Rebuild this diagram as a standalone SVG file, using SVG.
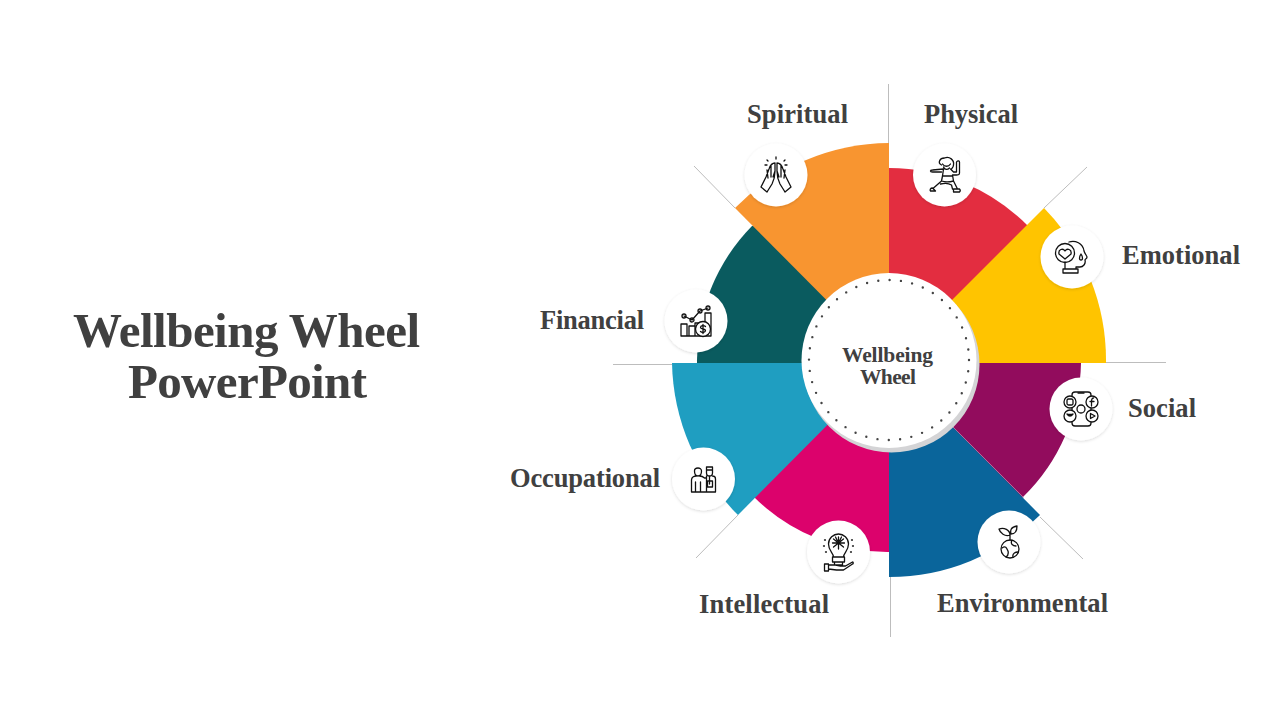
<svg xmlns="http://www.w3.org/2000/svg" width="1280" height="720" viewBox="0 0 1280 720">
<style>
text{font-family:"Liberation Serif","Noto Serif",serif;font-weight:700;fill:#404040}
.t{font-size:49px}
.l{font-size:26.500px}
.c{font-size:21.500px}
.b{fill:#fff;filter:url(#s)}
.i{fill:none;stroke:#111;stroke-width:1.3;stroke-linecap:round;stroke-linejoin:round}
.k{fill:none;stroke:#bdbdbd;stroke-width:1}
</style>
<defs><filter id="s" x="-20%" y="-20%" width="140%" height="140%"><feDropShadow dx="0" dy="1" stdDeviation="1.500" flood-color="#000" flood-opacity=".14"/></filter></defs>
<rect width="1280" height="720" fill="#fff"/>
<g id="title">
<text class="t" x="73" y="347" textLength="347" lengthAdjust="spacing">Wellbeing Wheel</text>
<text class="t" x="128" y="398" textLength="239" lengthAdjust="spacing">PowerPoint</text>
</g>
<g id="connectors" class="k">
<path d="M888.500 84V144"/><path d="M1106 362.500H1166"/><path d="M890.500 577V637"/><path d="M613 364.500H672"/>
<path d="M1044 208L1087 167"/><path d="M1040 517L1083 559"/><path d="M738 515L696 558"/><path d="M735 208L694 166"/>
</g>
<g id="node-physical">
<path d="M889 363V168A195 195 0 0 1 1027 225L1040 240Z" fill="#E32D40"/>
<circle class="b" cx="944.500" cy="175" r="31.500"/>
<g class="i" transform="translate(944.500 175)"><path d="M-3 -10C-7 -12 -5 -17 0 -17C5 -19 10 -15 9 -10C9 -8 8 -7 7 -6M-2 -11C0 -8 4 -8 6 -11M-1 -8C0 -5 3 -5 5 -7M-14 -4C-14 -5 -13 -5 -12 -5L-1 -6L-2 1L-3 6L-11 13M-14 -4C-14 -3 -13 -3 -12 -3L-3 -3M6 -6L9 -3L12 -3V-13C13 -15 15 -14 15 -13V-2C15 0 13 0 12 0L8 0L9 6L13 14M-2 1H8M-3 6C0 7 5 7 9 6M-4 9C0 8 4 8 7 10L8 14M-12 13L-9 16H-14C-15 15 -14 13 -12 13ZM13 14H15C16 15 16 16 15 17H9V14Z"/></g>
<text class="l" x="924" y="123" textLength="94" lengthAdjust="spacing">Physical</text>
</g>
<g id="node-emotional">
<path d="M889 363L1044 208A218 218 0 0 1 1106 363Z" fill="#FFC400"/>
<circle class="b" cx="1072" cy="257" r="31.500"/>
<g class="i" transform="translate(1072 257)"><circle cx="-7" cy="-4" r="9.500"/><path d="M-7 2L-13 -3C-14 -8 -9 -9 -7 -6C-5 -9 0 -8 -1 -3ZM-3 -15C3 -17 11 -14 12 -6C13 -3 15 -1 15 0C15 2 13 2 13 3C14 7 11 10 8 10H4V12M-7 5V12M-9 12H6V16H-9ZM9 -3C11 0 11 3 9 3C7 3 7 0 9 -3Z"/></g>
<text class="l" x="1122" y="264" textLength="118" lengthAdjust="spacing">Emotional</text>
</g>
<g id="node-social">
<path d="M889 363H1081A192 192 0 0 1 1023 497L1010 510Z" fill="#920C5D"/>
<circle class="b" cx="1081" cy="409" r="31.500"/>
<g class="i" transform="translate(1081 409)"><rect x="-9" y="-17" width="19" height="34" rx="3"/><path d="M-3 -16H3"/><g fill="#fff"><circle cx="-11" cy="-7" r="6"/><circle cx="11" cy="-7" r="6"/><circle cx="-11" cy="7" r="6"/><circle cx="11" cy="7" r="6"/><circle cx="0" cy="0" r="4"/></g><rect x="-14" y="-10" width="6" height="6" rx="1.500"/><path d="M12.500 -11C10.500 -11 10.500 -9.500 10.500 -3M9 -7.500H13M-14 5Q-11 9 -8 5Q-11 6 -14 5ZM9.500 4.500L14 7L9.500 9.500Z"/></g>
<text class="l" x="1128" y="417" textLength="68" lengthAdjust="spacing">Social</text>
</g>
<g id="node-environmental">
<path d="M889 363L1040 515A214 214 0 0 1 889 577Z" fill="#0A659B"/>
<path d="M889 363L1024 498" stroke="#c9a9c0" stroke-width=".6"/>
<circle class="b" cx="1009" cy="542" r="31.500"/>
<g class="i" transform="translate(1009 542)"><circle cx="1" cy="7" r="9"/><path d="M-7 6C-3 3 -2 7 -1 9C0 13 -3 15 -3 15M3 -2C1 2 4 4 7 4M4 15C3 11 7 10 9 10M1 -2V-7M1 -7C-4 -5 -9 -9 -10 -13C-5 -15 1 -12 1 -7ZM2 -8C1 -12 2 -15 8 -16C8 -12 7 -8 2 -8Z"/></g>
<text class="l" x="937" y="612" textLength="171" lengthAdjust="spacing">Environmental</text>
</g>
<g id="node-intellectual">
<path d="M889 363V552A189 189 0 0 1 755 498L740 480Z" fill="#DC026C"/>
<circle class="b" cx="838.500" cy="552" r="31.500"/>
<g class="i" transform="translate(838.500 552)"><path d="M-5 5C-5 1 -10 -1 -10 -8C-10 -14 -5 -18 0 -18C5 -18 10 -14 10 -8C10 -1 5 1 5 5ZM-6 5H6V10H-6ZM-4 10V13H4V10M-6 -9H6M0 -15V-3M-5 -13L5 -5M5 -13L-5 -5M-3 -15L-1 -11M3 -15L1 -11M-14 -12H-13M14 -12H13M-15 -6H-14M15 -6H14M-13 0H-12M13 0H12M-14 12H-10V19H-14ZM-10 13H-3L2 14H7L14 10C15 10 15 12 14 12L5 18H-2L-10 17"/></g>
<text class="l" x="699" y="613" textLength="130" lengthAdjust="spacing">Intellectual</text>
</g>
<g id="node-occupational">
<path d="M889 363L738 515A218 218 0 0 1 672 363Z" fill="#1F9EC1"/>
<circle class="b" cx="703.500" cy="479" r="31.500"/>
<g class="i" transform="translate(703.500 479)"><path d="M-9 -8C-9 -12 -2 -12 -2 -8C-2 -5 -3 -3 -5.500 -3C-8 -3 -9 -5 -9 -8ZM3 -12H9V-6C9 -4 8 -3 6 -3C4 -3 3 -4 3 -6ZM3 -9H9M-12 13V1C-12 -2 -9 -3 -7 -3M-4 -3C-1 -3 0 -2 1 -1H3L3 -3M3 -1V13M-8 13V3M-3 13V3M9 -3C11 -3 12 -2 12 0V13H-12M6 -3V5M4 2H9V8H4Z"/></g>
<text class="l" x="510" y="487" textLength="150" lengthAdjust="spacing">Occupational</text>
</g>
<g id="node-financial">
<path d="M889 363H697A192 192 0 0 1 752 226L770 225Z" fill="#0A5B5F"/>
<circle class="b" cx="696" cy="321" r="31.500"/>
<g class="i" transform="translate(696 321)"><path d="M-15 3H-9V15H-15ZM-7 5H-1V15H-7ZM9 -8H15V15H9ZM-15 15H15M-12 -5L-4 -1L4 -10L12 -13M-1 5V2H9"/><circle cx="-12" cy="-5" r="2"/><circle cx="-4" cy="-1" r="2"/><circle cx="4" cy="-10" r="2"/><circle cx="12" cy="-13" r="2"/><circle cx="7" cy="8" r="7.500" fill="#fff"/><path d="M9.500 5.500C8 4 4.500 4.500 4.500 6.500C4.500 8.500 9.500 7.500 9.500 9.500C9.500 11.500 6 12 4.500 10.500M7 3.500V12.500"/></g>
<text class="l" x="540" y="329" textLength="104" lengthAdjust="spacing">Financial</text>
</g>
<g id="node-spiritual">
<path d="M889 363L735 208A219 219 0 0 1 889 143Z" fill="#F89530"/>
<circle class="b" cx="776" cy="175" r="31.500"/>
<g class="i" transform="translate(776 175)"><path d="M-1 -12C-4 -12 -6 -9 -7 -6L-10 2L-15 12L-9 17L-4 9C-2 5 -1 0 -1 -4ZM-9 -5L-8 3M-5 -9L-5 2M-1 -4L-3 2"/><path d="M1 -12C4 -12 6 -9 7 -6L10 2L15 12L9 17L4 9C2 5 1 0 1 -4ZM9 -5L8 3M5 -9L5 2M1 -4L3 2M0 -18V-16M-9 -15L-8 -14M9 -15L8 -14M-11 -10H-9M11 -10H9"/></g>
<text class="l" x="747" y="123" textLength="101" lengthAdjust="spacing">Spiritual</text>
</g>
<g id="node-center">
<circle cx="891.500" cy="364.500" r="88" fill="#d4d4d6"/>
<circle cx="889" cy="360.500" r="87.500" fill="#fff"/>
<circle cx="889" cy="360" r="80" fill="none" stroke="#444" stroke-width="2.400" stroke-linecap="round" stroke-dasharray="0 11.424"/>
<text class="c" x="842" y="362" textLength="91" lengthAdjust="spacing">Wellbeing</text>
<text class="c" x="860" y="384" textLength="56" lengthAdjust="spacing">Wheel</text>
</g>
</svg>
